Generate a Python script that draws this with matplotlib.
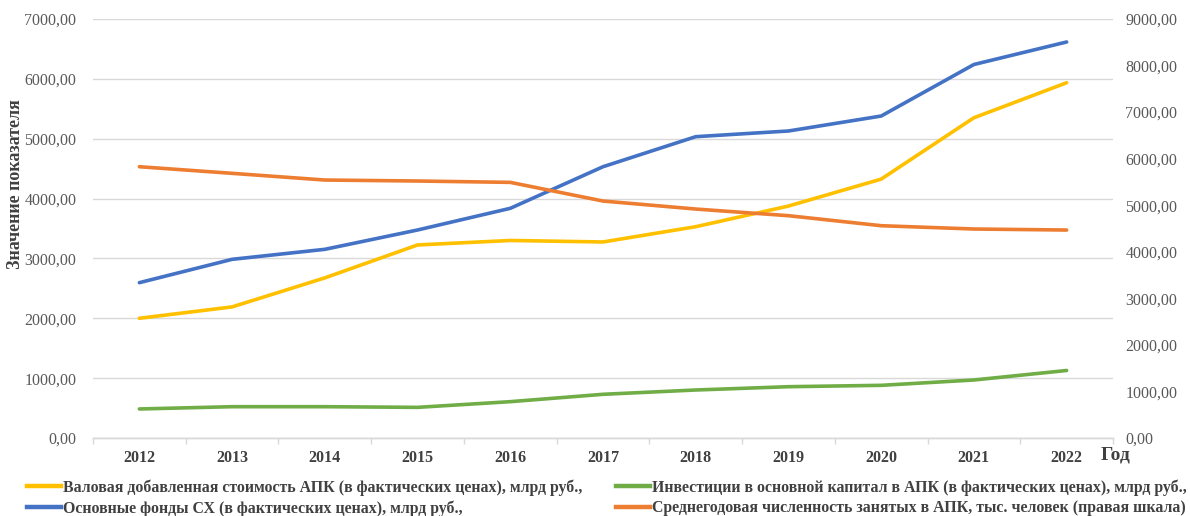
import numpy as np
import matplotlib.pyplot as plt
from matplotlib.lines import Line2D
from matplotlib.ticker import FuncFormatter, MultipleLocator

plt.rcParams['font.family'] = ['Liberation Serif', 'DejaVu Serif']

# Data (APK indicators, 2012-2022)
years = np.arange(2012, 2023)
gva = [2000, 2190, 2675, 3225, 3300, 3275, 3530, 3875, 4325, 5350, 5935]
invest = [485, 523, 523, 512, 607, 730, 802, 857, 880, 969, 1128]
fixed_assets = [2595, 2985, 3152, 3475, 3837, 4532, 5034, 5129, 5379, 6240, 6616]
employed = [5827, 5685, 5541, 5520, 5491, 5090, 4918, 4775, 4560, 4489, 4467]

labels = [
    "Валовая добавленная стоимость АПК (в фактических ценах), млрд руб.,",
    "Инвестиции в основной капитал в АПК (в фактических ценах), млрд руб.,",
    "Основные фонды СХ (в фактических ценах), млрд руб.,",
    "Среднегодовая численность занятых в АПК, тыс. человек (правая шкала)",
]
colors = ["#FFC000", "#70AD47", "#4472C4", "#ED7D31"]

tick_gray = "#595959"
text_dark = "#404040"
grid_gray = "#D9D9D9"

fmt = FuncFormatter(lambda v, p: f"{v:.2f}".replace(".", ","))

fig = plt.figure(figsize=(11.9, 5.16), dpi=100)
ax = fig.add_axes([93 / 1190, 78 / 516, 1020 / 1190, 419 / 516])
ax2 = ax.twinx()

lw = 2.6
ax.plot(years, gva, color=colors[0], lw=lw, solid_capstyle='round', zorder=3)
ax.plot(years, invest, color=colors[1], lw=lw, solid_capstyle='round', zorder=3)
ax.plot(years, fixed_assets, color=colors[2], lw=lw, solid_capstyle='round', zorder=3)
ax2.plot(years, employed, color=colors[3], lw=lw, solid_capstyle='round', zorder=3)

ax.set_xlim(2011.5, 2022.5)
ax.set_ylim(0, 7000)
ax2.set_ylim(0, 9000)
ax.yaxis.set_major_locator(MultipleLocator(1000))
ax2.yaxis.set_major_locator(MultipleLocator(1000))
ax.yaxis.set_major_formatter(fmt)
ax2.yaxis.set_major_formatter(fmt)

ax.grid(axis='y', color=grid_gray, lw=1.0)
ax.set_axisbelow(True)

for a in (ax, ax2):
    for s in ('top', 'left', 'right'):
        a.spines[s].set_visible(False)
    a.spines['bottom'].set_color(grid_gray)
    a.spines['bottom'].set_linewidth(1.0)

# category ticks: marks at boundaries, labels at centres
ax.set_xticks(np.arange(2011.5, 2023, 1))
ax.set_xticklabels([])
ax.set_xticks(years, minor=True)
ax.set_xticklabels([str(y) for y in years], minor=True, fontsize=11.5,
                   fontweight='bold', color=text_dark)
ax.tick_params(axis='x', which='major', length=4, color=grid_gray, width=1)
ax.tick_params(axis='x', which='minor', length=0, pad=9)

ax.tick_params(axis='y', length=0, labelsize=11.5, labelcolor=tick_gray, pad=12)
ax2.tick_params(axis='y', length=0, labelsize=11.5, labelcolor=tick_gray, pad=9)

fig.text(16 / 1190, 1 - 184 / 516, "Значение показателя", rotation=90,
         ha='center', va='center', fontsize=13, fontweight='bold', color=text_dark)
fig.text(1101 / 1190, 1 - 455 / 516, "Год", ha='left', va='center',
         fontsize=14, fontweight='bold', color=text_dark)

# legend in two columns below the plot
def legend_col(idx, x, y):
    handles = [Line2D([0], [0], color=colors[i], lw=3.2) for i in idx]
    leg = fig.legend(handles, [labels[i] for i in idx], loc='upper left',
                     bbox_to_anchor=(x, y), frameon=False, handlelength=2.15,
                     handletextpad=0.12, labelspacing=0.3, borderaxespad=0,
                     borderpad=0, prop={'size': 11.4, 'weight': 'bold'})
    for t in leg.get_texts():
        t.set_color(text_dark)
    return leg

legend_col([0, 2], 27 / 1190, 1 - 479 / 516)
legend_col([1, 3], 616 / 1190, 1 - 479 / 516)

fig.savefig("out.png", dpi=100)
